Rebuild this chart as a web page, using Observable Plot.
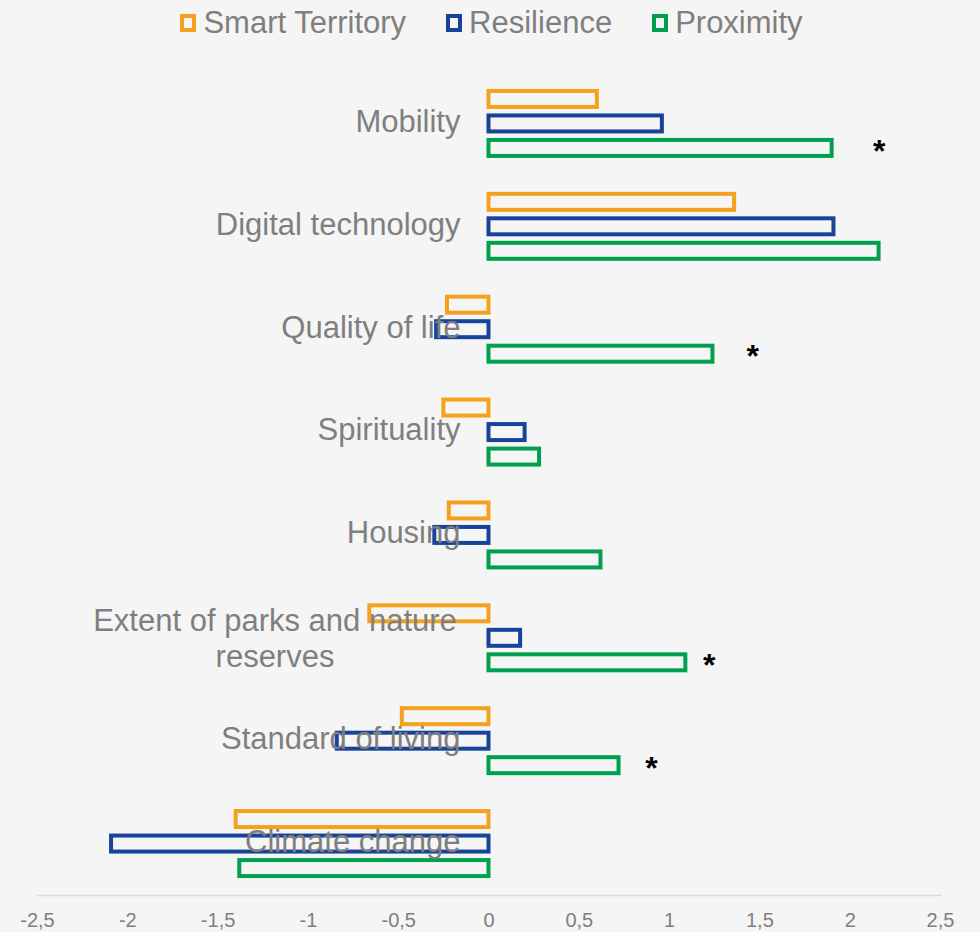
<!DOCTYPE html>
<html><head><meta charset="utf-8">
<script src="https://cdn.jsdelivr.net/npm/d3@7"></script>
<script src="https://cdn.jsdelivr.net/npm/@observablehq/plot@0.6"></script>
<style>
body{margin:0;background:#f5f5f5;font-family:"Liberation Sans",Arial,sans-serif;}
#legend{height:45px;display:flex;justify-content:center;align-items:center;gap:40px;padding-left:3px;box-sizing:border-box}
.item{display:flex;align-items:center;gap:7px;font-size:31px;color:#7f7f7f}
.sw{width:8px;height:10px;border:4px solid;background:#f5f5f5}
#chart svg{display:block}
</style></head><body>
<div id="legend"></div><div id="chart"></div>
<script>
const categories = ["Mobility","Digital technology","Quality of life","Spirituality","Housing","Extent of parks and nature reserves","Standard of living","Climate change"];
const series = ["Smart Territory","Resilience","Proximity"];
const smartTerritory = [0.6,1.36,-0.23,-0.25,-0.22,-0.66,-0.48,-1.4];
const resilience = [0.96,1.91,-0.29,0.2,-0.3,0.175,-0.84,-2.09];
const proximity = [1.9,2.16,1.24,0.28,0.62,1.09,0.72,-1.38];
const colors = ["#F4A11D","#17449A","#00A14E"];
const xTicks = [-2.5,-2,-1.5,-1,-0.5,0,0.5,1,1.5,2,2.5];
const starCategories = ["Mobility","Quality of life","Extent of parks and nature reserves","Standard of living"];
const starX = [2.16,1.46,1.22,0.9];
const wrappedLabel = "Extent of parks and nature reserves";
const wrappedText = "Extent of parks and nature\nreserves";

const valuesBySeries = [smartTerritory, resilience, proximity];
const rows = [];
categories.forEach((c, i) => series.forEach((s, j) => rows.push({category: c, series: s, value: valuesBySeries[j][i]})));
const stars = starCategories.map((c, i) => ({category: c, x: starX[i]}));

// legend
const leg = document.getElementById("legend");
series.forEach((s, j) => {
  const it = document.createElement("div"); it.className = "item";
  const sw = document.createElement("span"); sw.className = "sw"; sw.style.borderColor = colors[j];
  const tx = document.createElement("span"); tx.textContent = s;
  it.appendChild(sw); it.appendChild(tx); leg.appendChild(it);
});

const fmt = d => String(d).replace(".", ",");
const chart = Plot.plot({
  width: 980, height: 887,
  marginTop: 27, marginBottom: 37, marginLeft: 37, marginRight: 40,
  style: {background: "#f5f5f5", fontFamily: "Liberation Sans, Arial, sans-serif", overflow: "visible"},
  x: {domain: [-2.5, 2.5], ticks: xTicks, tickFormat: fmt},
  fy: {domain: categories, padding: 0, round: false, axis: null},
  y: {domain: series, paddingInner: 0.347, paddingOuter: 0.773, round: false, axis: null},
  color: {domain: series, range: colors},
  marks: [
    Plot.frame({anchor: "bottom", facetAnchor: "bottom", stroke: "#d9d9d9", strokeWidth: 1.5}),
    Plot.axisX({ticks: xTicks, tickFormat: fmt, tickSize: 0, tickPadding: 17, fontSize: 20, fill: "#7f7f7f", label: null}),
    Plot.barX(rows, {fy: "category", y: "series", x: "value", stroke: "series", strokeWidth: 4, fill: "none"}),
    Plot.text(categories.filter(c => c !== wrappedLabel), {fy: d => d, text: d => d, frameAnchor: "left", textAnchor: "end", dx: 423, dy: -2, fontSize: 31, fill: "#7f7f7f"}),
    Plot.text([wrappedLabel], {fy: d => d, text: () => wrappedText, frameAnchor: "left", textAnchor: "middle", dx: 237.5, dy: -1, lineHeight: 1.17, fontSize: 31, fill: "#7f7f7f"}),
    Plot.text(stars, {fy: "category", y: () => "Proximity", x: "x", text: () => "*", fontSize: 32, fontWeight: "bold", fill: "#000", dy: 3})
  ]
});
document.getElementById("chart").appendChild(chart);
</script>
</body></html>
